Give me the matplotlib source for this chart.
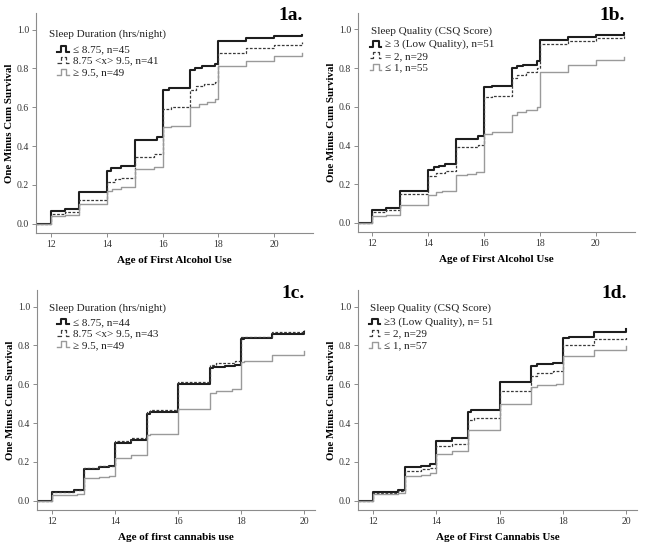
import numpy as np
import matplotlib
matplotlib.use("Agg")
import matplotlib.pyplot as plt
from matplotlib.lines import Line2D
from matplotlib.legend_handler import HandlerBase

plt.rcParams['font.family'] = ['Liberation Serif', 'DejaVu Serif']

# ---- data: (age, one minus cum survival) step points ----
# 1a sleep duration / alcohol
a_t1 = [12, 12.5, 13, 14, 14.15, 14.3, 14.5, 15, 15.8, 16, 16.25, 17, 17.15, 17.4, 17.9, 18, 19, 20, 21]
a_y1 = [0.065, 0.075, 0.165, 0.27, 0.285, 0.29, 0.30, 0.43, 0.445, 0.69, 0.70, 0.79, 0.80, 0.81, 0.825, 0.94, 0.955, 0.965, 0.972]
a_t2 = [12, 12.5, 13, 14, 14.3, 14.5, 15, 15.7, 16, 16.3, 17, 17.2, 17.5, 17.9, 18, 19, 20, 21]
a_y2 = [0.05, 0.06, 0.125, 0.215, 0.23, 0.235, 0.345, 0.36, 0.59, 0.60, 0.69, 0.71, 0.72, 0.73, 0.88, 0.905, 0.92, 0.935]
a_t3 = [12, 12.5, 13, 14, 14.2, 14.5, 15, 15.7, 16, 16.3, 17, 17.3, 17.6, 17.9, 18, 19, 20, 21]
a_y3 = [0.04, 0.045, 0.10, 0.17, 0.18, 0.19, 0.28, 0.295, 0.50, 0.505, 0.60, 0.615, 0.625, 0.64, 0.81, 0.84, 0.865, 0.88]

# 1b sleep quality / alcohol
b_t1 = [12, 12.5, 13, 14, 14.2, 14.4, 14.6, 15, 15.8, 16, 16.3, 17, 17.2, 17.4, 17.9, 18, 19, 20, 21]
b_y1 = [0.065, 0.075, 0.165, 0.275, 0.29, 0.295, 0.305, 0.435, 0.45, 0.70, 0.71, 0.80, 0.81, 0.815, 0.835, 0.945, 0.96, 0.97, 0.98]
b_t2 = [12, 12.5, 13, 14, 14.3, 14.6, 15, 15.8, 16, 16.3, 17, 17.2, 17.5, 17.9, 18, 19, 20, 21]
b_y2 = [0.055, 0.065, 0.15, 0.245, 0.26, 0.27, 0.39, 0.405, 0.65, 0.655, 0.75, 0.765, 0.78, 0.80, 0.925, 0.94, 0.955, 0.965]
b_t3 = [12, 12.5, 13, 14, 14.3, 14.5, 15, 15.4, 15.7, 16, 16.3, 17, 17.2, 17.5, 17.9, 18, 19, 20, 21]
b_y3 = [0.035, 0.04, 0.09, 0.145, 0.16, 0.165, 0.25, 0.255, 0.265, 0.46, 0.47, 0.56, 0.575, 0.585, 0.60, 0.78, 0.815, 0.84, 0.86]

# 1c sleep duration / cannabis
c_t1 = [12, 12.7, 13, 13.5, 13.8, 14, 14.5, 15, 15.1, 16, 17, 17.1, 17.5, 17.8, 18, 18.1, 19, 20]
c_y1 = [0.045, 0.055, 0.165, 0.175, 0.18, 0.30, 0.315, 0.445, 0.455, 0.60, 0.685, 0.69, 0.695, 0.70, 0.835, 0.84, 0.86, 0.87]
c_t2 = [12, 12.7, 13, 13.5, 14, 14.5, 15, 15.1, 16, 17, 17.2, 17.8, 18, 19, 20]
c_y2 = [0.048, 0.058, 0.17, 0.18, 0.31, 0.325, 0.455, 0.465, 0.61, 0.70, 0.71, 0.72, 0.845, 0.87, 0.88]
c_t3 = [12, 12.8, 13, 13.5, 13.8, 14, 14.5, 15, 15.1, 16, 17, 17.2, 17.7, 18, 18.1, 19, 20]
c_y3 = [0.03, 0.035, 0.12, 0.125, 0.13, 0.22, 0.235, 0.34, 0.345, 0.475, 0.555, 0.565, 0.575, 0.715, 0.72, 0.75, 0.77]

# 1d sleep quality / cannabis
d_t1 = [12, 12.8, 13, 13.5, 13.8, 14, 14.5, 15, 15.1, 16, 17, 17.2, 17.7, 18, 18.2, 19, 20]
d_y1 = [0.045, 0.055, 0.175, 0.18, 0.19, 0.31, 0.325, 0.455, 0.465, 0.61, 0.695, 0.705, 0.71, 0.84, 0.845, 0.87, 0.885]
d_t2 = [12, 12.8, 13, 13.5, 13.8, 14, 14.5, 15, 15.2, 16, 17, 17.2, 17.7, 18, 19, 20]
d_y2 = [0.04, 0.05, 0.155, 0.165, 0.17, 0.28, 0.295, 0.415, 0.425, 0.565, 0.645, 0.66, 0.67, 0.80, 0.835, 0.845]
d_t3 = [12, 12.8, 13, 13.5, 13.8, 14, 14.5, 15, 16, 17, 17.2, 17.8, 18, 19, 20]
d_y3 = [0.035, 0.04, 0.13, 0.135, 0.145, 0.24, 0.255, 0.365, 0.50, 0.585, 0.595, 0.60, 0.745, 0.775, 0.795]

leg_a = ["\u2264 8.75, n=45", "8.75 <x> 9.5, n=41", "\u2265 9.5, n=49"]
leg_b = ["\u2265 3 (Low Quality), n=51", "= 2, n=29", "\u2264 1, n=55"]
leg_c = ["\u2264 8.75, n=44", "8.75 <x> 9.5, n=43", "\u2265 9.5, n=49"]
leg_d = ["\u22653 (Low Quality), n= 51", "= 2, n=29", "\u2264 1, n=57"]

styles = [dict(color="#1e1e1e", lw=1.5, ls="-"),
          dict(color="#3a3a3a", lw=0.9, ls=(0, (2.2, 1.3))),
          dict(color="#9a9a9a", lw=1.0, ls="-")]


class StepHandler(HandlerBase):
    def create_artists(self, legend, orig, xd, yd, w, h, fs, trans):
        xs = np.array([0.0, 0.3, 0.3, 0.75, 0.75, 0.95]) * w - xd
        ys = np.array([0.1, 0.1, 0.8, 0.8, 0.1, 0.1]) * h - yd
        ln = Line2D(xs, ys, color=orig.get_color(), lw=orig.get_linewidth(),
                    ls=orig.get_linestyle())
        ln.set_transform(trans)
        return [ln]


fig = plt.figure(figsize=(6.45, 5.49), dpi=100)
W, H = 645, 549

# pixel box, xlim, series, legend title, labels, xlabel, tag, (title x, title y, handle x, entry y)
panels = [
    (36, 313, 13, 233, (11.46, 21.4), [(a_t1, a_y1), (a_t2, a_y2), (a_t3, a_y3)],
     "Sleep Duration (hrs/night)", leg_a, "Age of First Alcohol Use", "1a.",
     (0.047, 0.905, 0.076, 0.832)),
    (358, 635, 13, 232, (11.5, 21.4), [(b_t1, b_y1), (b_t2, b_y2), (b_t3, b_y3)],
     "Sleep Quality (CSQ Score)", leg_b, "Age of First Alcohol Use", "1b.",
     (0.048, 0.915, 0.042, 0.854)),
    (37, 315, 290, 510, (11.52, 20.35), [(c_t1, c_y1), (c_t2, c_y2), (c_t3, c_y3)],
     "Sleep Duration (hrs/night)", leg_c, "Age of first cannabis use", "1c.",
     (0.044, 0.917, 0.073, 0.851)),
    (358, 637, 290, 510, (11.52, 20.35), [(d_t1, d_y1), (d_t2, d_y2), (d_t3, d_y3)],
     "Sleep Quality (CSQ Score)", leg_d, "Age of First Cannabis Use", "1d.",
     (0.044, 0.917, 0.038, 0.851)),
]

for x0, x1, y0, y1, xlim, series, ltitle, labels, xlab, tag, lpos in panels:
    ax = fig.add_axes([x0 / W, 1 - y1 / H, (x1 - x0) / W, (y1 - y0) / H])
    handles = []
    for (t, y), st, lab in zip(series, styles, labels):
        h, = ax.step([xlim[0]] + t, [0.0] + y, where="post", label=lab, **st)
        handles.append(h)
    ax.set_xlim(*xlim)
    ax.set_ylim(-0.047, 1.085)
    ax.set_xticks([12, 14, 16, 18, 20])
    ax.set_yticks([0.0, 0.2, 0.4, 0.6, 0.8, 1.0])
    ax.set_yticklabels(["0.0", "0.2", "0.4", "0.6", "0.8", "1.0"])
    for s in ["top", "right"]:
        ax.spines[s].set_visible(False)
    for s in ["left", "bottom"]:
        ax.spines[s].set_color("#8c8c8c")
        ax.spines[s].set_linewidth(0.8)
    ax.tick_params(length=3, width=0.7, color="#8c8c8c", labelsize=7, labelcolor="#333333", pad=2)
    ax.set_xlabel(xlab, fontsize=8, fontweight="bold", labelpad=5)
    ax.set_ylabel("One Minus Cum Survival", fontsize=7.8, fontweight="bold", labelpad=2)
    tx, ty, hx, ey = lpos
    ax.text(tx, ty, ltitle, transform=ax.transAxes, ha="left", va="center",
            fontsize=8, color="#222222")
    ax.legend(handles=handles, loc="upper left", bbox_to_anchor=(hx, ey + 0.027),
              frameon=False, fontsize=8, handlelength=1.1, handleheight=0.8,
              handletextpad=0.3, labelspacing=0.12, borderaxespad=0, borderpad=0,
              labelcolor="#222222", handler_map={Line2D: StepHandler()})
    fig.text((x1 - 10) / W, 1 - (y0 + 3) / H, tag, ha="right", va="center",
             fontsize=14, fontweight="bold")

fig.savefig("out.png", dpi=100)
